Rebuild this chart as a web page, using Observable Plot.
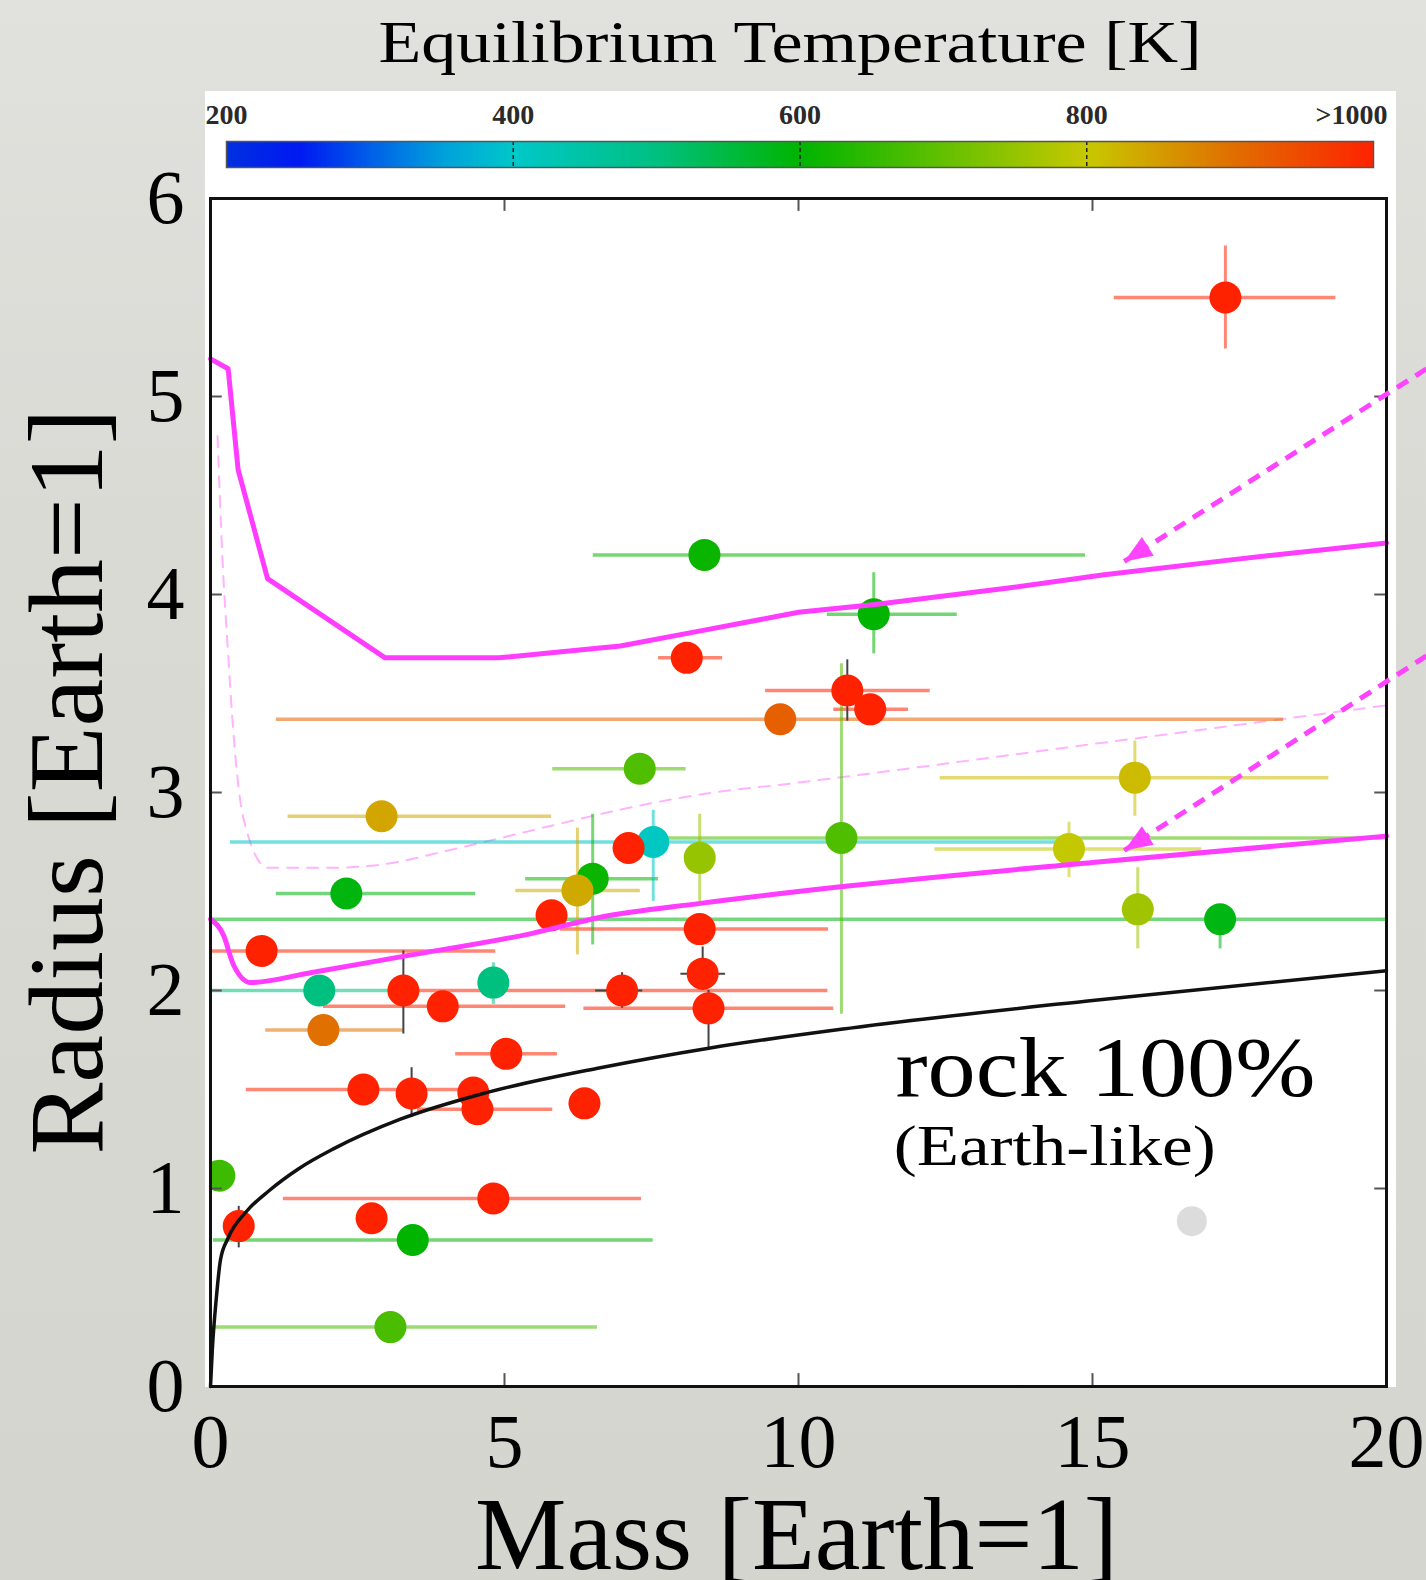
<!DOCTYPE html>
<html><head><meta charset="utf-8">
<script src="https://cdn.jsdelivr.net/npm/d3@7"></script>
<script src="https://cdn.jsdelivr.net/npm/@observablehq/plot@0.6"></script>
<style>
html,body{margin:0;padding:0;overflow:hidden;}
body{width:1426px;height:1580px;background:linear-gradient(180deg,#e1e1dd 0%,#d9dad4 35%,#d4d5cf 100%);}
#wrap{position:relative;width:1426px;height:1580px;}
#panel{position:absolute;left:205px;top:91px;width:1191px;height:1296px;background:#fff;}
#cb,#main{position:absolute;left:0;top:0;}
</style></head><body>
<div id="wrap"><div id="panel"></div><div id="cb"></div><div id="main"></div></div>
<script>
// ---------------- data ----------------
const mass   = [17.26, 8.40, 11.28, 8.10, 10.83, 11.22, 9.69, 7.30, 2.91, 7.53, 7.11, 8.32, 10.73, 15.72, 14.60, 15.77, 17.17, 6.50, 6.24, 5.80, 8.32, 0.87, 1.85, 3.28, 3.95, 7.00, 8.47, 8.37, 4.81, 1.92, 5.03, 2.60, 3.42, 4.47, 4.54, 6.36, 4.81, 2.74, 0.48, 3.44, 0.15, 3.06, 2.31];
const radius = [5.50, 4.20, 3.90, 3.68, 3.515, 3.42, 3.37, 3.12, 2.88, 2.75, 2.72, 2.67, 2.77, 3.075, 2.715, 2.41, 2.36, 2.565, 2.505, 2.38, 2.31, 2.20, 2.00, 2.00, 1.92, 2.00, 1.91, 2.085, 2.04, 1.80, 1.68, 1.50, 1.48, 1.485, 1.40, 1.43, 0.95, 0.85, 0.81, 0.74, 1.065, 0.30, 2.49];
const teq    = [1000, 610, 600, 1000, 1000, 1000, 920, 680, 840, 410, 1000, 750, 680, 815, 795, 760, 585, 610, 835, 1000, 1000, 1000, 500, 1000, 1000, 1000, 1000, 1000, 500, 900, 1000, 1000, 1000, 1000, 1000, 1000, 1000, 1000, 1000, 600, 660, 675, 590];
const massLo = [15.37, 6.51, 10.49, 7.62, 9.44, 10.60, 1.12, 5.82, 1.32, 0.34, null, null, 7.60, 12.41, 12.32, null, -1, 5.36, 5.19, null, 5.95, 0.03, -0.5, null, 1.92, 3.30, 6.35, null, null, 0.94, 4.17, 0.61, null, null, 3.52, null, 1.24, null, null, 0.05, null, 0.03, 1.12];
const massHi = [19.14, 14.88, 12.70, 8.71, 12.24, 11.87, 18.25, 8.09, 5.80, 14.40, null, null, 21, 19.02, 16.86, null, 21, 7.62, 7.31, null, 10.51, 4.85, 3.30, null, 6.04, 10.50, 10.60, null, null, 3.28, 5.90, 4.60, null, null, 5.82, null, 7.33, null, null, 7.53, null, 6.58, 4.51];
const radLo  = [5.24, null, 3.70, null, null, null, null, null, null, 2.45, null, 2.45, 1.88, 2.88, 2.57, 2.21, 2.21, 2.23, 2.18, null, null, null, null, null, null, null, null, null, 1.93, null, null, null, null, null, null, null, null, null, null, null, null, null, null];
const radHi  = [5.76, null, 4.11, null, null, null, null, null, null, 2.91, null, 2.89, 3.65, 3.26, 2.85, 2.62, 2.42, 2.89, 2.82, null, null, null, null, null, null, null, null, null, 2.14, null, null, null, null, null, null, null, null, null, null, null, null, null, null];

// planet without temperature (grey)
const greyMass = [16.69];
const greyRadius = [0.835];

// dark (grey) error bars
const darkVMass = [10.83, 3.28, 7.00, 8.47, 8.37, 3.42, 0.48];
const darkVLo   = [3.36, 1.78, 1.91, 1.71, 2.00, 1.36, 0.70];
const darkVHi   = [3.67, 2.20, 2.09, 2.00, 2.22, 1.61, 0.91];
const darkHRad  = [2.00, 2.085];
const darkHLo   = [6.55, 8.00];
const darkHHi   = [7.35, 8.76];

// model curves
const upperMass = [0, 0.3, 0.47, 0.97, 2.97, 4.9, 6.97, 8.4, 10.0, 11.3, 13.5, 15.2, 17.5, 20];
const upperRad  = [5.19, 5.14, 4.63, 4.08, 3.68, 3.68, 3.74, 3.82, 3.91, 3.95, 4.03, 4.10, 4.18, 4.26];
const lowerMass = [0, 0.22, 0.39, 0.68, 1.7, 3.23, 5.49, 6.63, 8.33, 10.6, 15.14, 20];
const lowerRad  = [2.36, 2.28, 2.13, 2.04, 2.09, 2.17, 2.29, 2.37, 2.44, 2.52, 2.65, 2.78];
const dashMass  = [0.12, 0.2, 0.3, 0.39, 0.56, 0.97, 2.1, 3.0, 4.08, 5.49, 6.92, 8.33, 10.0, 15.14, 20];
const dashRad   = [4.8, 4.2, 3.7, 3.3, 2.87, 2.62, 2.62, 2.64, 2.71, 2.81, 2.91, 2.99, 3.05, 3.25, 3.44];
const rockMass  = [0, 0.03, 0.1, 0.17, 0.3, 0.6, 1.0, 1.5, 2.09, 3.23, 4.64, 6.63, 8.5, 10.88, 15, 20];
const rockRad   = [0, 0.18, 0.45, 0.64, 0.75, 0.88, 0.99, 1.10, 1.20, 1.35, 1.48, 1.61, 1.71, 1.81, 1.95, 2.10];

// annotation arrows (from outside right edge)
const arrowFromMass = [20.68, 20.68];
const arrowFromRad  = [5.14, 3.69];
const arrowToMass   = [15.54, 15.54];
const arrowToRad    = [4.167, 2.707];

// annotation texts
const annotText = ["rock 100%", "(Earth-like)"];
const annotMass = [11.65, 11.62];
const annotRad  = [1.465, 1.12];

// ticks / labels
const xTicks = [0, 5, 10, 15, 20];
const yTicks = [0, 1, 2, 3, 4, 5, 6];
const xInner = [5, 10, 15];
const yInner = [1, 2, 3, 4, 5];
const cbTicks = [200, 400, 600, 800];
const cbLast = [1000];
const cbLabelsLast = [">1000"];

// temperature colour scale
const teqDomain = [200, 250, 300, 350, 400, 500, 600, 700, 800, 900, 1000];
const teqRange  = ["#0030e0", "#0018f2", "#0060e8", "#00a0dc", "#00c8c8", "#00c080", "#00b400", "#64c000", "#c8c800", "#e07000", "#ff2200"];

// ---------------- build tables ----------------
const pts = mass.map((m, i) => ({x: m, y: radius[i], t: teq[i], xlo: massLo[i], xhi: massHi[i], ylo: radLo[i], yhi: radHi[i]}));
const grey = greyMass.map((m, i) => ({x: m, y: greyRadius[i]}));
const darkV = darkVMass.map((m, i) => ({x: m, lo: darkVLo[i], hi: darkVHi[i]}));
const darkH = darkHRad.map((r, i) => ({y: r, lo: darkHLo[i], hi: darkHHi[i]}));
const toLine = (ms, rs) => ms.map((m, i) => ({m, r: rs[i]}));
const upper = toLine(upperMass, upperRad);
const lower = toLine(lowerMass, lowerRad);
const dash = toLine(dashMass, dashRad);
const rock = toLine(rockMass, rockRad);
const arrows = arrowFromMass.map((m, i) => ({x1: m, y1: arrowFromRad[i], x2: arrowToMass[i], y2: arrowToRad[i]}));
const annots = annotText.map((t, i) => ({t, x: annotMass[i], y: annotRad[i]}));

const W = 1426, H = 1580;
const SERIF = "'Liberation Serif', 'Times New Roman', serif";
const MAGENTA = "#ff3cff";
const colorOpts = {type: "linear", domain: teqDomain, range: teqRange, interpolate: "rgb", clamp: true};

// arrowhead symbol: a filled triangle whose tip sits on the point, pointing along the shaft
// (shaft direction in screen pixels: 302 px left, 193 px down)
const headDir = Math.atan2(193, -302);
const headSymbol = {
  draw(ctx) {
    const L = 28, hw = 11;
    const ux = Math.cos(headDir), uy = Math.sin(headDir);
    const bx = -ux * L, by = -uy * L;       // base centre
    const px = -uy, py = ux;                // perpendicular
    ctx.moveTo(0, 0);
    ctx.lineTo(bx + px * hw, by + py * hw);
    ctx.lineTo(bx - px * hw, by - py * hw);
    ctx.closePath();
  }
};

// ---------------- colour bar ----------------
const rampT = d3.range(200, 1000, 2);
const cb = Plot.plot({
  width: W, height: 200,
  marginTop: 141, marginBottom: 33, marginLeft: 226, marginRight: W - 1373,
  style: {background: "transparent", fontFamily: SERIF, overflow: "visible"},
  x: {domain: [200, 1000], axis: null},
  y: {domain: [0, 1], axis: null},
  color: colorOpts,
  marks: [
    Plot.rect(rampT, {x1: d => d, x2: d => d + 3, y1: 0, y2: 1, fill: d => d, clip: "frame"}),
    Plot.ruleX([400, 600, 800], {stroke: "#222", strokeWidth: 1.5, strokeDasharray: "4,3"}),
    Plot.frame({stroke: "#555", strokeWidth: 1.5}),
    Plot.text(cbTicks, {x: d => d, text: d => String(d), frameAnchor: "top", lineAnchor: "bottom", dy: -18, fontSize: 28, fontWeight: "bold", fill: "#2a2a2a"}),
    Plot.text(cbLast, {x: d => d, text: (d, i) => cbLabelsLast[i], frameAnchor: "top", lineAnchor: "bottom", dy: -18, dx: -22, fontSize: 28, fontWeight: "bold", fill: "#2a2a2a"}),
    Plot.text(["Equilibrium Temperature [K]"], {text: d => d, frameAnchor: "top", lineAnchor: "bottom", dy: -80, dx: -10, fontSize: 60, fill: "#000"})
  ]
});

// ---------------- main chart ----------------
const main = Plot.plot({
  width: W, height: H,
  marginTop: 198, marginBottom: H - 1386, marginLeft: 210, marginRight: W - 1386,
  style: {background: "transparent", fontFamily: SERIF, overflow: "visible", color: "#000"},
  x: {domain: [0, 20], label: null},
  y: {domain: [0, 6], label: null},
  color: colorOpts,
  marks: [
    Plot.line(dash, {x: "m", y: "r", stroke: "#ffb3ff", strokeWidth: 2, strokeDasharray: "11,9", curve: "monotone-x", clip: "frame"}),
    Plot.ruleY(pts.filter(d => d.xlo != null), {y: "y", x1: "xlo", x2: "xhi", stroke: "t", strokeWidth: 3.5, strokeOpacity: 0.55, clip: "frame"}),
    Plot.ruleX(pts.filter(d => d.ylo != null), {x: "x", y1: "ylo", y2: "yhi", stroke: "t", strokeWidth: 3, strokeOpacity: 0.55, clip: "frame"}),
    Plot.ruleX(darkV, {x: "x", y1: "lo", y2: "hi", stroke: "#444", strokeWidth: 2}),
    Plot.ruleY(darkH, {y: "y", x1: "lo", x2: "hi", stroke: "#444", strokeWidth: 2}),
    Plot.dot(pts, {x: "x", y: "y", r: 16, fill: "t", clip: "frame"}),
    Plot.dot(grey, {x: "x", y: "y", r: 15, fill: "#dcdcdc"}),
    Plot.line(lower, {x: "m", y: "r", stroke: MAGENTA, strokeWidth: 5, curve: "monotone-x"}),
    Plot.line(upper, {x: "m", y: "r", stroke: MAGENTA, strokeWidth: 5}),
    Plot.line(rock, {x: "m", y: "r", stroke: "#111", strokeWidth: 3.5, curve: "monotone-x"}),
    // inner ticks on all four sides
    Plot.ruleX(xInner, {x: d => d, y1: 0, y2: 0.065, stroke: "#555", strokeWidth: 2}),
    Plot.ruleX(xInner, {x: d => d, y1: 5.935, y2: 6, stroke: "#555", strokeWidth: 2}),
    Plot.ruleY(yInner, {y: d => d, x1: 0, x2: 0.2, stroke: "#555", strokeWidth: 2}),
    Plot.ruleY(yInner, {y: d => d, x1: 19.8, x2: 20, stroke: "#555", strokeWidth: 2}),
    Plot.frame({stroke: "#111", strokeWidth: 3}),
    Plot.axisX({ticks: xTicks, tickFormat: d => String(d), tickSize: 0, tickPadding: 27, fontSize: 76, label: null, fill: "#000"}),
    Plot.axisY({ticks: yTicks, tickFormat: d => String(d), tickSize: 0, tickPadding: 26, fontSize: 76, label: null, fill: "#000"}),
    Plot.text(["Mass [Earth=1]"], {text: d => d, frameAnchor: "bottom", lineAnchor: "bottom", textAnchor: "middle", dy: 182, dx: -2, fontSize: 104, fill: "#000"}),
    Plot.text(["Radius [Earth=1]"], {text: d => d, frameAnchor: "left", lineAnchor: "bottom", textAnchor: "middle", rotate: -90, dx: -109, dy: -11, fontSize: 106, fill: "#000"}),
    Plot.text(annots.slice(0, 1), {x: "x", y: "y", text: "t", textAnchor: "start", lineAnchor: "bottom", fontSize: 84, fill: "#000"}),
    Plot.text(annots.slice(1), {x: "x", y: "y", text: "t", textAnchor: "start", lineAnchor: "bottom", fontSize: 58, fill: "#000"}),
    // dashed annotation arrows with filled heads
    Plot.link(arrows, {x1: "x1", y1: "y1", x2: "x2", y2: "y2", stroke: "#ff44ff", strokeWidth: 5, strokeDasharray: "13,9"}),
    Plot.dot(arrows, {x: "x2", y: "y2", symbol: headSymbol, r: 10, fill: "#ff44ff", stroke: "none"})
  ]
});

document.getElementById("cb").appendChild(cb);
document.getElementById("main").appendChild(main);

// fit long texts to the reference widths
const fit = {"Mass [Earth=1]": 643, "Radius [Earth=1]": 746, "rock 100%": 420, "(Earth-like)": 322, "Equilibrium Temperature [K]": 823};
for (const s of [main, cb]) {
  s.querySelectorAll("text").forEach(t => {
    const L = fit[t.textContent];
    if (L) { t.setAttribute("textLength", L); t.setAttribute("lengthAdjust", "spacingAndGlyphs"); }
  });
}
</script></body></html>
